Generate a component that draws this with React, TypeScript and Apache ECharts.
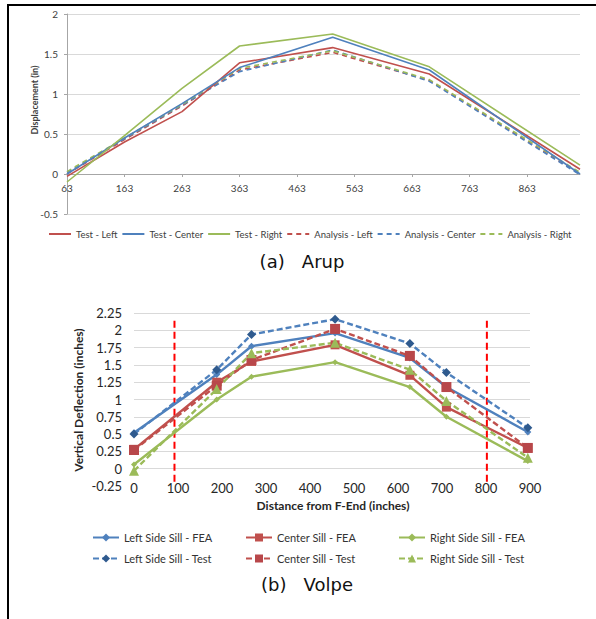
import React, { useEffect, useRef } from "react";
import * as echarts from "echarts";

// ---------- (a) Arup ----------
const arupX = [63, 163, 263, 363, 525, 693, 955];
const arupTicks = [63, 163, 263, 363, 463, 563, 663, 763, 863];
const testLeft = [-0.03, 0.4, 0.78, 1.39, 1.58, 1.25, 0.06];
const testCenter = [0.0, 0.45, 0.88, 1.33, 1.71, 1.3, 0.0];
const testRight = [-0.1, 0.48, 1.07, 1.6, 1.75, 1.34, 0.11];
const anaLeft = [0.0, 0.43, 0.85, 1.3, 1.52, 1.17, 0.0];
const anaCenter = [0.02, 0.44, 0.86, 1.28, 1.55, 1.16, -0.01];
const anaRight = [0.03, 0.45, 0.87, 1.32, 1.54, 1.18, 0.02];
const arupNames = [
  "Test - Left",
  "Test - Center",
  "Test - Right",
  "Analysis - Left",
  "Analysis - Center",
  "Analysis - Right",
];

// ---------- (b) Volpe ----------
const volpeX = [0, 188, 267, 457, 627, 710, 895];
const leftFEA = [0.52, 1.36, 1.77, 1.96, 1.6, 1.18, 0.53];
const leftTest = [0.5, 1.43, 1.94, 2.16, 1.81, 1.39, 0.59];
const centerFEA = [0.28, 1.25, 1.55, 1.79, 1.35, 0.89, 0.3];
const centerTest = [0.27, 1.2, 1.57, 2.02, 1.63, 1.18, 0.3];
const rightFEA = [0.06, 1.0, 1.33, 1.54, 1.18, 0.75, 0.11];
const rightTest = [-0.03, 1.15, 1.67, 1.82, 1.43, 0.98, 0.16];
const volpeNames = [
  "Left Side Sill - FEA",
  "Center Sill - FEA",
  "Right Side Sill - FEA",
  "Left Side Sill - Test",
  "Center Sill - Test",
  "Right Side Sill - Test",
];
const limitX = [92, 802];
const limitY = [-0.19, 2.19];

const RED = "#C0504D";
const BLUE = "#4F81BD";
const GREEN = "#9BBB59";
const FONT = "Lato";

const pairs = (xs: number[], ys: number[]) => xs.map((x, i) => [x, ys[i]]);

export default function App() {
  const ref = useRef<HTMLDivElement>(null);
  useEffect(() => {
    if (!ref.current) return;
    const chart = echarts.init(ref.current, undefined, { renderer: "svg" });

    const arupSeries = [testLeft, testCenter, testRight, anaLeft, anaCenter, anaRight].map(
      (ys, i) => ({
        type: "line",
        name: arupNames[i],
        xAxisIndex: 0,
        yAxisIndex: 0,
        data: pairs(arupX, ys),
        symbol: "none",
        showSymbol: false,
        lineStyle: {
          color: [RED, BLUE, GREEN][i % 3],
          width: 1.6,
          type: i < 3 ? "solid" : [5, 4],
        },
        itemStyle: { color: [RED, BLUE, GREEN][i % 3] },
        z: i < 3 ? 3 : 2,
      })
    );

    const vData = [leftFEA, centerFEA, rightFEA, leftTest, centerTest, rightTest];
    const vSymbols = ["diamond", "rect", "diamond", "diamond", "rect", "triangle"];
    const vSizes = [7, 9, 6, 9, 10, 10];
    const vLine = [BLUE, RED, GREEN, BLUE, RED, GREEN];
    const vMark = [BLUE, RED, GREEN, "#2F5A8E", "#B8474A", GREEN];
    const volpeSeries = vData.map((ys, i) => ({
      type: "line",
      name: volpeNames[i],
      xAxisIndex: 1,
      yAxisIndex: 1,
      data: pairs(volpeX, ys),
      symbol: vSymbols[i],
      symbolSize: vSizes[i],
      showSymbol: true,
      lineStyle: { color: vLine[i], width: 2.4, type: i < 3 ? "solid" : [6, 3] },
      itemStyle: { color: vMark[i] },
      z: 3,
    }));

    const limitSeries = limitX.map((x) => ({
      type: "line",
      name: "limit" + x,
      xAxisIndex: 1,
      yAxisIndex: 1,
      data: limitY.map((y) => [x, y]),
      symbol: "none",
      lineStyle: { color: "#FF0000", width: 2, type: [7, 4] },
      z: 1,
    }));

    const volpeLegendPos = [
      [92, 537],
      [245, 537],
      [398, 537],
      [92, 558],
      [245, 558],
      [398, 558],
    ];
    const volpeLegends = volpeNames.map((n, i) => ({
      data: [n],
      left: volpeLegendPos[i][0],
      top: volpeLegendPos[i][1] - 5,
      itemWidth: 26,
      itemHeight: 10,
      itemGap: 0,
      padding: 0,
      selectedMode: false,
      textStyle: { fontFamily: FONT, fontSize: 11, color: "#333" },
    }));

    chart.setOption({
      animation: false,
      backgroundColor: "#fff",
      grid: [
        { left: 67, top: 14, width: 513, height: 200 },
        { left: 134, top: 313, width: 396, height: 173 },
      ],
      xAxis: [
        {
          type: "value",
          gridIndex: 0,
          min: 63,
          max: 955,
          position: "bottom",
          offset: -40,
          splitLine: { show: false },
          axisLine: { onZero: false, lineStyle: { color: "#A6A6A6" } },
          axisTick: { customValues: arupTicks, length: 3, lineStyle: { color: "#A6A6A6" } },
          axisLabel: {
            customValues: arupTicks,
            margin: 9,
            fontFamily: FONT,
            fontSize: 10,
            color: "#404040",
          },
        },
        {
          type: "value",
          gridIndex: 1,
          min: 0,
          max: 900,
          interval: 100,
          splitLine: { show: false },
          axisLine: { show: false, onZero: false },
          axisTick: { show: false },
          axisLabel: { margin: -5, fontFamily: FONT, fontSize: 13, color: "#262626" },
        },
      ],
      yAxis: [
        {
          type: "value",
          gridIndex: 0,
          min: -0.5,
          max: 2,
          interval: 0.5,
          splitLine: { lineStyle: { color: "#D9D9D9", width: 1 } },
          axisLine: { show: true, onZero: false, lineStyle: { color: "#A6A6A6" } },
          axisTick: { show: true, length: 3, lineStyle: { color: "#A6A6A6" } },
          axisLabel: { margin: 9, fontFamily: FONT, fontSize: 10, color: "#404040" },
        },
        {
          type: "value",
          gridIndex: 1,
          min: -0.25,
          max: 2.25,
          interval: 0.25,
          splitLine: { showMinLine: false, lineStyle: { color: "#D9D9D9", width: 1 } },
          axisLine: { show: false, onZero: false },
          axisTick: { show: false },
          axisLabel: { margin: 12, fontFamily: FONT, fontSize: 13, color: "#262626" },
        },
      ],
      legend: [
        {
          data: arupNames,
          left: 48,
          top: 229,
          itemWidth: 22,
          itemHeight: 10,
          itemGap: 4,
          padding: 0,
          selectedMode: false,
          itemStyle: { opacity: 0 },
          textStyle: { fontFamily: FONT, fontSize: 9.5, color: "#404040" },
        },
        ...volpeLegends,
      ],
      series: [...arupSeries, ...limitSeries, ...volpeSeries],
      graphic: [
        {
          type: "line",
          shape: { x1: 8, y1: 5, x2: 8, y2: 619 },
          style: { stroke: "#000", lineWidth: 2 },
        },
        {
          type: "line",
          shape: { x1: 7, y1: 5, x2: 596, y2: 5 },
          style: { stroke: "#000", lineWidth: 2 },
        },
        {
          type: "text",
          x: 34,
          y: 100,
          rotation: Math.PI / 2,
          style: {
            text: "Displacement (in)",
            fontFamily: FONT,
            fontWeight: "bold",
            fontSize: 9,
            fill: "#404040",
            align: "center",
            verticalAlign: "middle",
          },
        },
        {
          type: "text",
          x: 78,
          y: 400,
          rotation: Math.PI / 2,
          style: {
            text: "Vertical Deflection (inches)",
            fontFamily: FONT,
            fontWeight: "bold",
            fontSize: 12,
            fill: "#262626",
            align: "center",
            verticalAlign: "middle",
          },
        },
        {
          type: "text",
          x: 333,
          y: 505,
          style: {
            text: "Distance from F-End (inches)",
            fontFamily: FONT,
            fontWeight: "bold",
            fontSize: 12,
            fill: "#262626",
            align: "center",
            verticalAlign: "middle",
          },
        },
        {
          type: "text",
          x: 302,
          y: 261,
          style: {
            text: "(a)   Arup",
            fontFamily: "DejaVu Sans",
            fontSize: 18,
            fill: "#111",
            align: "center",
            verticalAlign: "middle",
          },
        },
        {
          type: "text",
          x: 307,
          y: 584,
          style: {
            text: "(b)   Volpe",
            fontFamily: "DejaVu Sans",
            fontSize: 18,
            fill: "#111",
            align: "center",
            verticalAlign: "middle",
          },
        },
      ],
    });
    return () => chart.dispose();
  }, []);
  return (
    <div
      ref={ref}
      style={{ position: "absolute", left: 0, top: 0, width: 596, height: 619 }}
    />
  );
}
